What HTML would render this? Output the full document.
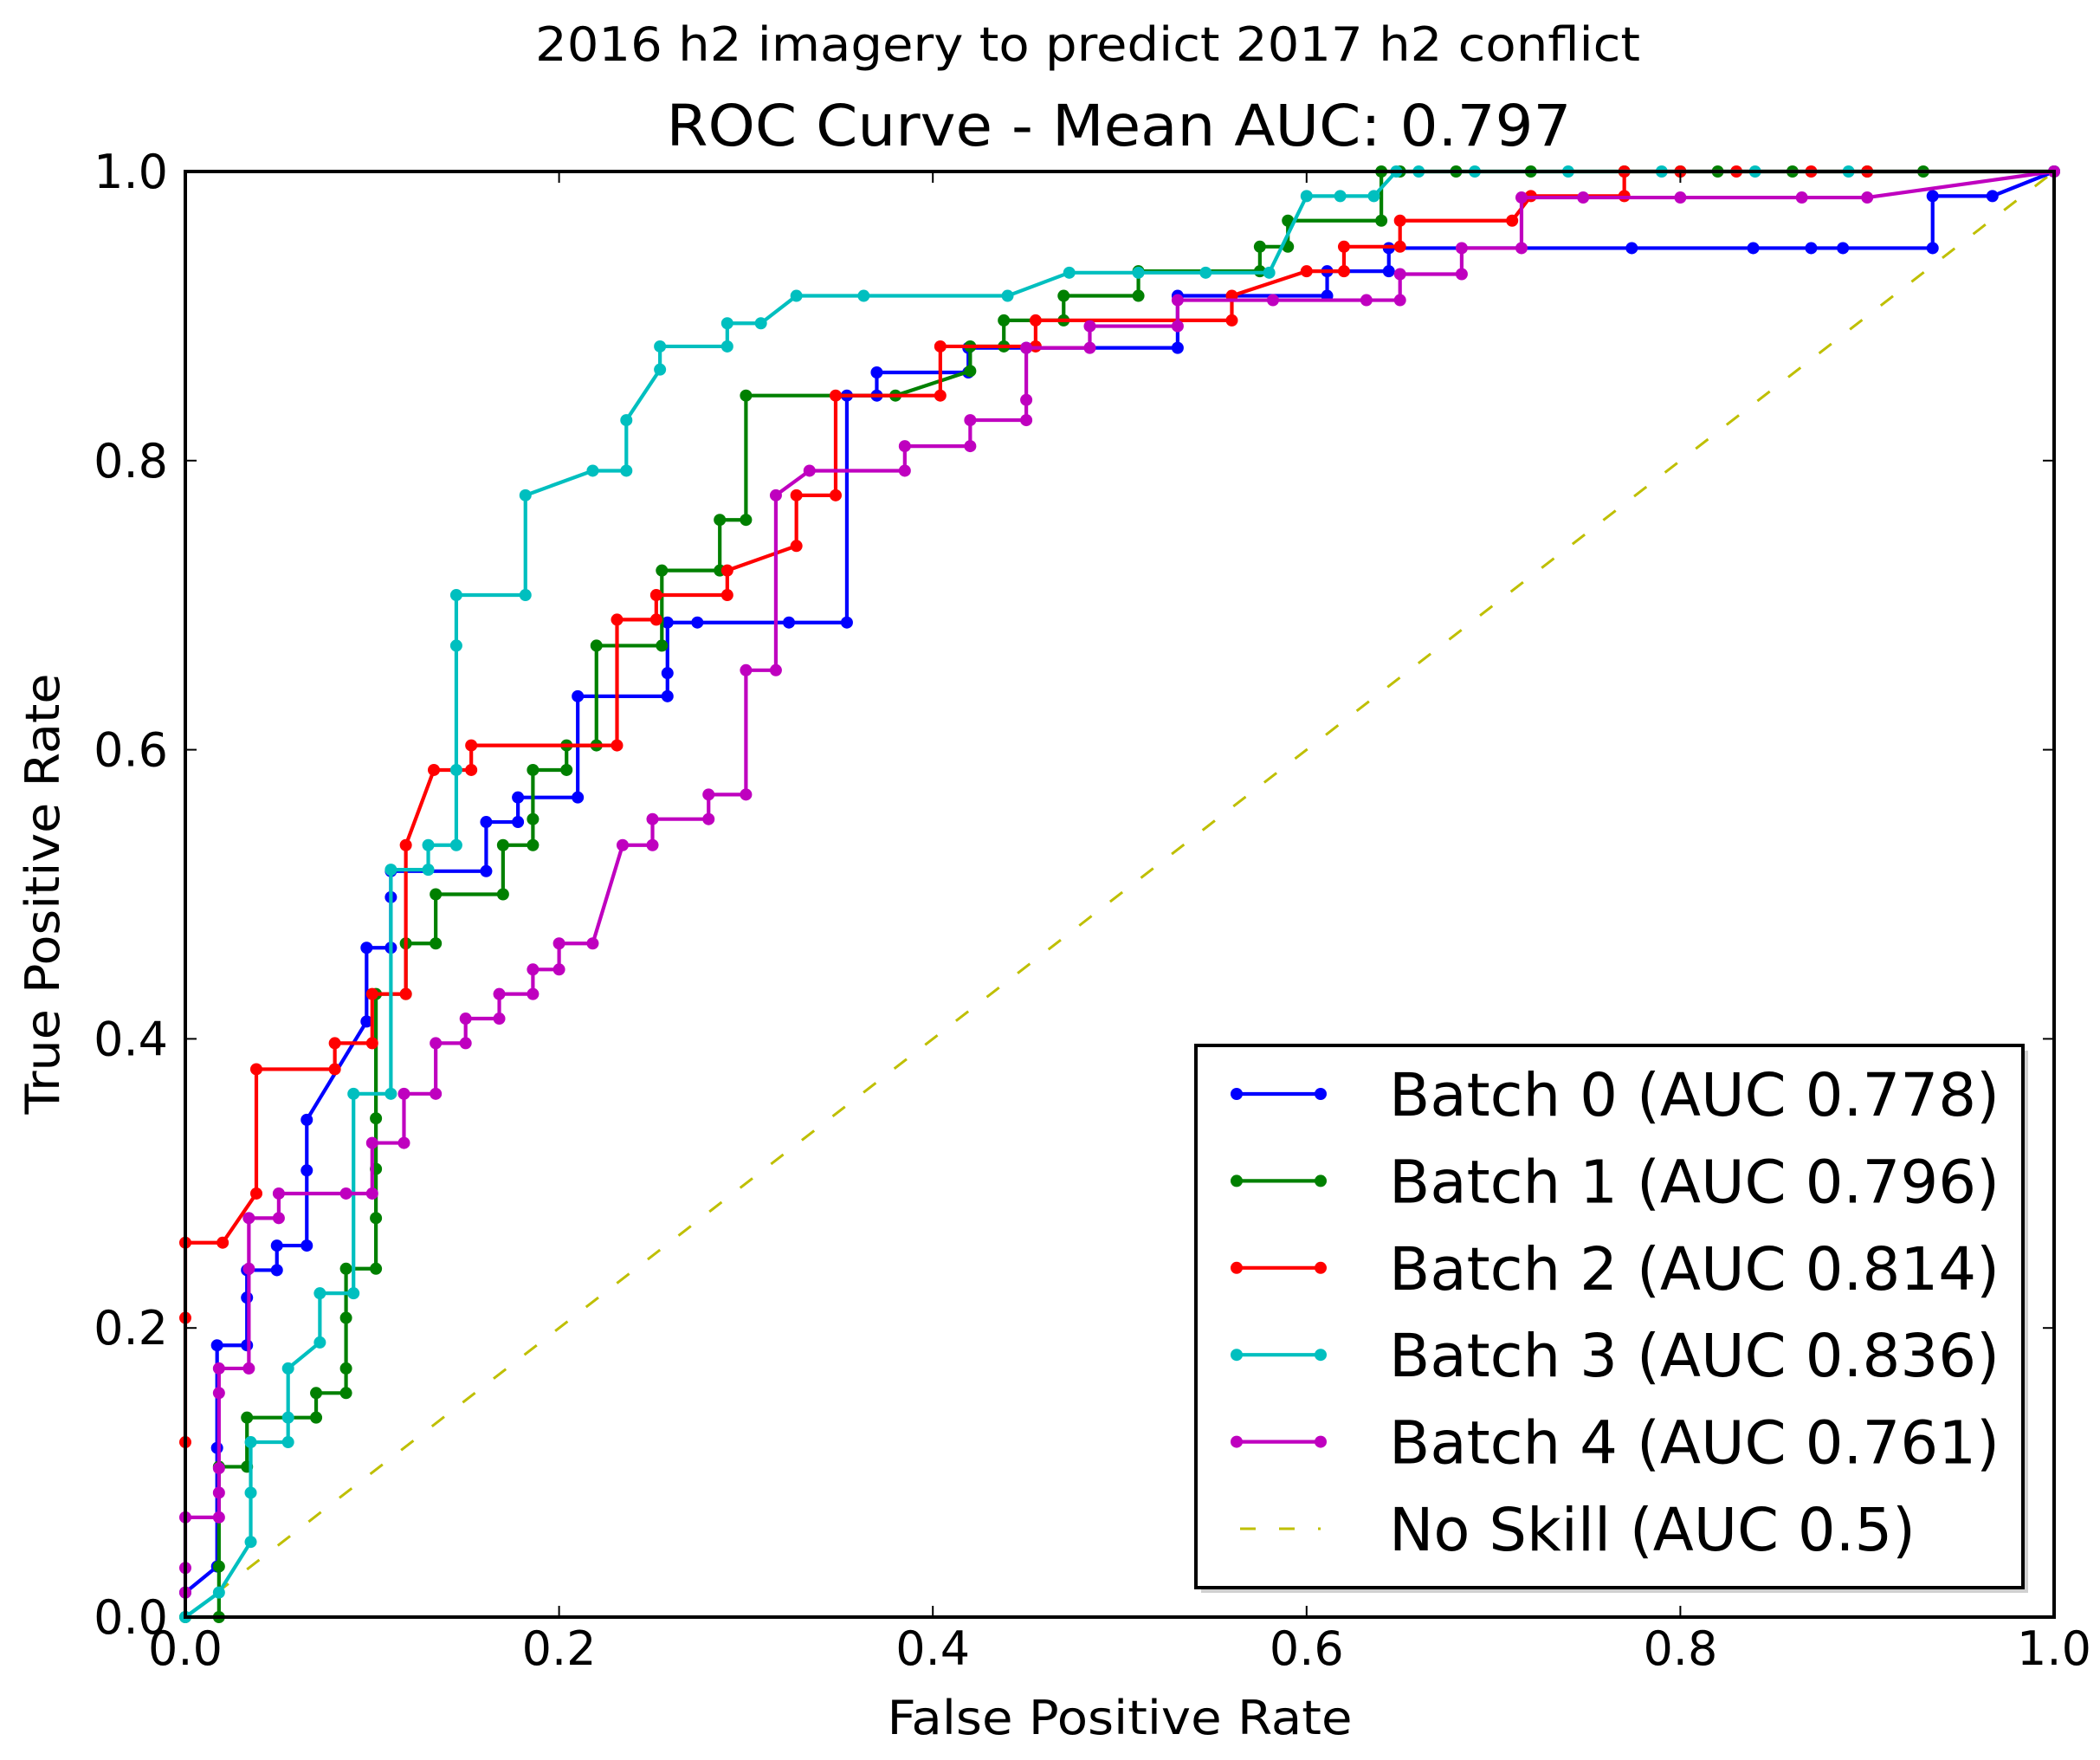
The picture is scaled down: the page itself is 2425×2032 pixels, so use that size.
<!DOCTYPE html>
<html><head><meta charset="utf-8"><style>
html,body{margin:0;padding:0;background:#fff;}
svg{display:block;font-family:"DejaVu Sans","Liberation Sans",sans-serif;}
</style></head><body>
<svg id="chart" width="2425" height="2032" viewBox="0 0 2425 2032" xmlns="http://www.w3.org/2000/svg">
<rect x="0" y="0" width="2425" height="2032" fill="#fff"/>
<text x="1256" y="70" font-size="54" text-anchor="middle" textLength="1276" lengthAdjust="spacingAndGlyphs">2016 h2 imagery to predict 2017 h2 conflict</text>
<text x="1292" y="168" font-size="66" text-anchor="middle" textLength="1045" lengthAdjust="spacingAndGlyphs">ROC Curve - Mean AUC: 0.797</text>
<g id="plot"></g>
<g id="axes"></g>
<text x="1293" y="2002" font-size="54" text-anchor="middle" textLength="537" lengthAdjust="spacingAndGlyphs">False Positive Rate</text>
<text x="0" y="0" font-size="54" text-anchor="middle" textLength="509" lengthAdjust="spacingAndGlyphs" transform="translate(68,1032) rotate(-90)">True Positive Rate</text>
<g id="legend"></g>
</svg>
<script>
const xTicks = [0, 0.2, 0.4, 0.6, 0.8, 1.0];
const yTicks = [0, 0.2, 0.4, 0.6, 0.8, 1.0];
const tickLabels = ["0.0", "0.2", "0.4", "0.6", "0.8", "1.0"];
const seriesNames = ["Batch 0 (AUC 0.778)", "Batch 1 (AUC 0.796)", "Batch 2 (AUC 0.814)", "Batch 3 (AUC 0.836)", "Batch 4 (AUC 0.761)"];
const noSkillName = "No Skill (AUC 0.5)";
const b0x = [0,0.017,0.017,0.017,0.033,0.033,0.033,0.049,0.049,0.065,0.065,0.065,0.097,0.097,0.11,0.11,0.11,0.161,0.161,0.178,0.178,0.21,0.21,0.258,0.258,0.258,0.274,0.323,0.354,0.354,0.37,0.37,0.419,0.419,0.45,0.531,0.531,0.611,0.611,0.644,0.644,0.774,0.839,0.87,0.887,0.935,0.935,0.967,1];
const b0y = [0.017,0.035,0.117,0.188,0.188,0.221,0.24,0.24,0.257,0.257,0.309,0.344,0.412,0.463,0.463,0.498,0.516,0.516,0.55,0.55,0.567,0.567,0.637,0.637,0.653,0.688,0.688,0.688,0.688,0.845,0.845,0.861,0.861,0.878,0.878,0.878,0.914,0.914,0.931,0.931,0.947,0.947,0.947,0.947,0.947,0.947,0.983,0.983,1];
const b1x = [0,0.018,0.018,0.018,0.033,0.033,0.07,0.07,0.086,0.086,0.086,0.086,0.102,0.102,0.102,0.102,0.102,0.118,0.118,0.134,0.134,0.17,0.17,0.186,0.186,0.186,0.204,0.204,0.22,0.22,0.255,0.255,0.286,0.286,0.3,0.3,0.38,0.42,0.42,0.438,0.438,0.47,0.47,0.51,0.51,0.575,0.575,0.59,0.59,0.64,0.64,0.65,0.68,0.72,0.77,0.8,0.82,0.86,0.9,0.93,1];
const b1y = [0,0,0.035,0.104,0.104,0.138,0.138,0.155,0.155,0.172,0.207,0.241,0.241,0.276,0.31,0.345,0.431,0.431,0.466,0.466,0.5,0.5,0.534,0.534,0.552,0.586,0.586,0.603,0.603,0.672,0.672,0.724,0.724,0.759,0.759,0.845,0.845,0.862,0.879,0.879,0.897,0.897,0.914,0.914,0.931,0.931,0.948,0.948,0.966,0.966,1,1,1,1,1,1,1,1,1,1,1];
const b2x = [0,0,0,0.02,0.038,0.038,0.08,0.08,0.1,0.1,0.118,0.118,0.133,0.153,0.153,0.231,0.231,0.252,0.252,0.29,0.29,0.327,0.327,0.348,0.348,0.404,0.404,0.455,0.455,0.56,0.56,0.6,0.62,0.62,0.65,0.65,0.71,0.72,0.77,0.77,0.8,0.83,0.87,0.9,1];
const b2y = [0.121,0.207,0.259,0.259,0.293,0.379,0.379,0.397,0.397,0.431,0.431,0.534,0.586,0.586,0.603,0.603,0.69,0.69,0.707,0.707,0.724,0.741,0.776,0.776,0.845,0.845,0.879,0.879,0.897,0.897,0.914,0.931,0.931,0.948,0.948,0.966,0.966,0.983,0.983,1,1,1,1,1,1];
const b3x = [0,0.018,0.035,0.035,0.035,0.055,0.055,0.055,0.072,0.072,0.09,0.09,0.11,0.11,0.13,0.13,0.145,0.145,0.145,0.145,0.182,0.182,0.218,0.236,0.236,0.254,0.254,0.29,0.29,0.308,0.327,0.363,0.44,0.473,0.51,0.546,0.58,0.6,0.618,0.636,0.648,0.66,0.69,0.74,0.79,0.84,0.89,1];
const b3y = [0,0.017,0.052,0.086,0.121,0.121,0.138,0.172,0.19,0.224,0.224,0.362,0.362,0.517,0.517,0.534,0.534,0.586,0.672,0.707,0.707,0.776,0.793,0.793,0.828,0.863,0.879,0.879,0.895,0.895,0.914,0.914,0.914,0.93,0.93,0.93,0.93,0.983,0.983,0.983,1,1,1,1,1,1,1,1];
const b4x = [0,0,0,0.018,0.018,0.018,0.018,0.018,0.034,0.034,0.034,0.05,0.05,0.086,0.1,0.1,0.117,0.117,0.134,0.134,0.15,0.15,0.168,0.168,0.186,0.186,0.2,0.2,0.218,0.234,0.25,0.25,0.28,0.28,0.3,0.3,0.316,0.316,0.334,0.385,0.385,0.42,0.42,0.45,0.45,0.45,0.484,0.484,0.531,0.531,0.582,0.632,0.65,0.65,0.683,0.683,0.715,0.715,0.748,0.8,0.865,0.9,1];
const b4y = [0.017,0.034,0.069,0.069,0.086,0.103,0.155,0.172,0.172,0.241,0.276,0.276,0.293,0.293,0.293,0.328,0.328,0.362,0.362,0.397,0.397,0.414,0.414,0.431,0.431,0.448,0.448,0.466,0.466,0.534,0.534,0.552,0.552,0.569,0.569,0.655,0.655,0.776,0.793,0.793,0.81,0.81,0.828,0.828,0.842,0.878,0.878,0.893,0.893,0.911,0.911,0.911,0.911,0.929,0.929,0.947,0.947,0.982,0.982,0.982,0.982,0.982,1];
const noSkillX = [0, 1];
const noSkillY = [0, 1];

const NS = "http://www.w3.org/2000/svg";
const L = 214, R = 2372, T = 198, B = 1867;
function sx(v){ return L + v * (R - L); }
function sy(v){ return B - v * (B - T); }
function mk(tag, attrs, parent){ const e = document.createElementNS(NS, tag); for (const k in attrs) e.setAttribute(k, attrs[k]); parent.appendChild(e); return e; }

const plot = document.getElementById('plot');
const axes = document.getElementById('axes');
const legend = document.getElementById('legend');
const colors = ["#0000ff", "#008000", "#ff0000", "#00bfbf", "#bf00bf"];
const xs = [b0x, b1x, b2x, b3x, b4x];
const ys = [b0y, b1y, b2y, b3y, b4y];

const ns = mk('polyline', {points: noSkillX.map((v,i)=>sx(v)+','+sy(noSkillY[i])).join(' '), fill:'none', stroke:'#bfbf00', 'stroke-width':3, 'stroke-dasharray':'18,27'}, plot);



for (let s = 0; s < 5; s++) {
  const g = mk('g', {}, plot);
  
  
  const pl = mk('polyline', {points: xs[s].map((v,i)=>sx(v)+','+sy(ys[s][i])).join(' '), fill:'none', stroke:colors[s], 'stroke-width':4.2, 'stroke-linejoin':'round'}, g);
  
  
  for (let i = 0; i < xs[s].length; i++) {
    const c = mk('circle', {cx: sx(xs[s][i]), cy: sy(ys[s][i]), r: 7, fill: colors[s]}, g);
    
    
  }
}

const frame = mk('rect', {x:L, y:T, width:R-L, height:B-T, fill:'none', stroke:'#000', 'stroke-width':4}, axes);


for (let i = 0; i < xTicks.length; i++) {
  const x = sx(xTicks[i]);
  mk('line', {x1:x, y1:B, x2:x, y2:B-13, stroke:'#000', 'stroke-width':2}, axes);
  mk('line', {x1:x, y1:T, x2:x, y2:T+13, stroke:'#000', 'stroke-width':2}, axes);
  const t = mk('text', {x:x, y:1922, 'font-size':54, 'text-anchor':'middle'}, axes);
  
  
  t.textContent = tickLabels[i];
}
for (let i = 0; i < yTicks.length; i++) {
  const y = sy(yTicks[i]);
  mk('line', {x1:L, y1:y, x2:L+13, y2:y, stroke:'#000', 'stroke-width':2}, axes);
  mk('line', {x1:R, y1:y, x2:R-13, y2:y, stroke:'#000', 'stroke-width':2}, axes);
  const t = mk('text', {x:194, y:y+19, 'font-size':54, 'text-anchor':'end'}, axes);
  
  
  t.textContent = tickLabels[i];
}

mk('rect', {x:1387, y:1213, width:955, height:626, fill:'#d0d0d0'}, legend);
const lb = mk('rect', {x:1381, y:1207, width:955, height:626, fill:'#fff', stroke:'#000', 'stroke-width':4}, legend);


const names = seriesNames.concat([noSkillName]);
const lcol = colors.concat(['#bfbf00']);
for (let i = 0; i < 6; i++) {
  const y = 1263 + i * 100.4;
  const g = mk('g', {}, legend);
  
  
  if (i < 5) {
    mk('line', {x1:1428, y1:y, x2:1525, y2:y, stroke:lcol[i], 'stroke-width':4.2}, g);
    mk('circle', {cx:1428, cy:y, r:7, fill:lcol[i]}, g);
    mk('circle', {cx:1525, cy:y, r:7, fill:lcol[i]}, g);
  } else {
    mk('line', {x1:1428, y1:y, x2:1525, y2:y, stroke:lcol[i], 'stroke-width':3, 'stroke-dasharray':'18,27', 'stroke-dashoffset':'-4'}, g);
  }
  const t = mk('text', {x:1604, y:y+25, 'font-size':69, textLength: i < 5 ? 705 : 608, lengthAdjust:'spacingAndGlyphs'}, g);
  t.textContent = names[i];
}
</script>
</body></html>
